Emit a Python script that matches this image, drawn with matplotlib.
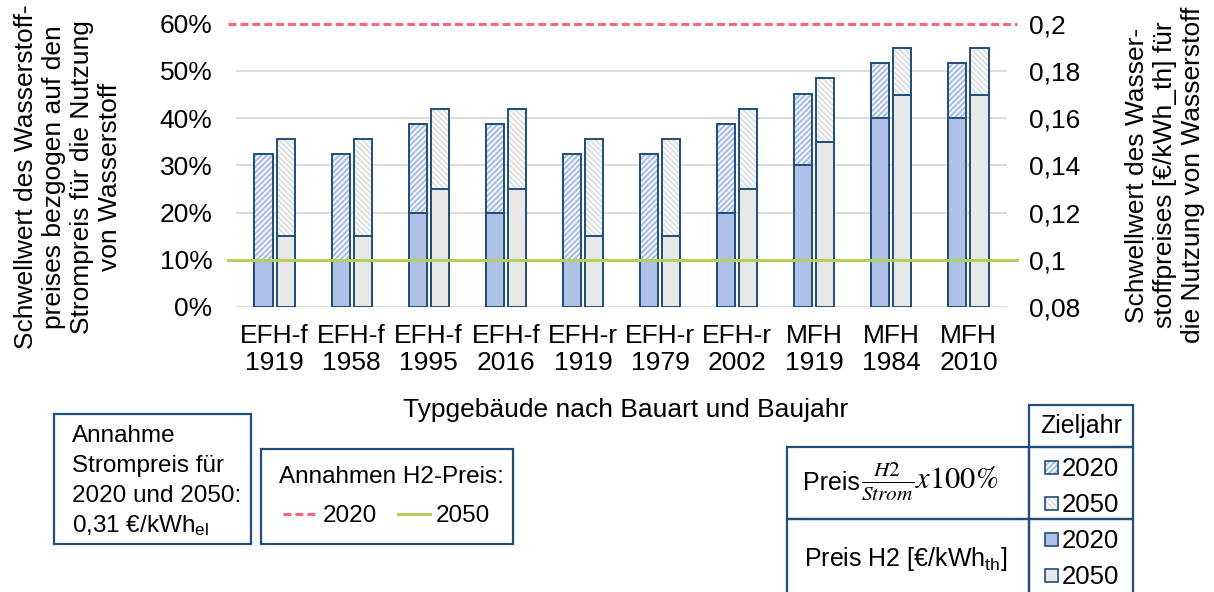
import matplotlib
matplotlib.use("Agg")
import matplotlib.pyplot as plt
import numpy as np
from matplotlib.patches import Rectangle

# Schriften
plt.rcParams['font.family'] = ['Liberation Sans', 'DejaVu Sans']
plt.rcParams['mathtext.fontset'] = 'custom'
plt.rcParams['mathtext.rm'] = 'Liberation Sans'
plt.rcParams['mathtext.it'] = 'Liberation Sans:italic'
plt.rcParams['hatch.linewidth'] = 1.6

# Daten
kategorien = ["EFH-f\n1919", "EFH-f\n1958", "EFH-f\n1995", "EFH-f\n2016", "EFH-r\n1919",
              "EFH-r\n1979", "EFH-r\n2002", "MFH\n1919", "MFH\n1984", "MFH\n2010"]
# Schwellwert H2-Preis [€/kWh_th] (rechte Achse)
preis_2020 = [0.10, 0.10, 0.12, 0.12, 0.10, 0.10, 0.12, 0.14, 0.16, 0.16]
preis_2050 = [0.11, 0.11, 0.13, 0.13, 0.11, 0.11, 0.13, 0.15, 0.17, 0.17]
# Schwellwert bezogen auf den Strompreis [%] (linke Achse)
anteil_2020 = [32.3, 32.3, 38.7, 38.7, 32.3, 32.3, 38.7, 45.2, 51.6, 51.6]
anteil_2050 = [35.5, 35.5, 41.9, 41.9, 35.5, 35.5, 41.9, 48.4, 54.8, 54.8]
# Annahmen H2-Preis [€/kWh_th]
h2_annahme_2020 = 0.20
h2_annahme_2050 = 0.10

# Farben
dunkelblau = '#1F4E79'
hellblau = '#AFC1E6'
hellgrau = '#E8E8E8'
schraffblau = '#A9BDE6'
schraffgrau = '#E2E2E2'
rot = '#F4677C'
gruen = '#B5CF5A'
fs = 19

fig = plt.figure(figsize=(12.14, 5.92), dpi=100)
W, H = 1214, 592
ax = fig.add_axes([236 / W, 1 - 307 / H, (1007 - 236) / W, (307 - 23.7) / H])
ax2 = ax.twinx()

x = np.arange(len(kategorien))
b = 0.235
dx = 0.143

# Gitterlinien
for v in range(0, 60, 10):
    ax.axhline(v, color='#D9D9D9', lw=1.3, zorder=0)

# schraffierte Balken (Anteil am Strompreis)
ax.bar(x - dx, anteil_2020, b, color='white', edgecolor=schraffblau, hatch='//////', lw=0, zorder=2)
ax.bar(x + dx, anteil_2050, b, color='white', edgecolor=schraffgrau, hatch='\\\\\\\\\\\\', lw=0, zorder=2)
ax.bar(x - dx, anteil_2020, b, fill=False, edgecolor=dunkelblau, lw=1.4, zorder=3)
ax.bar(x + dx, anteil_2050, b, fill=False, edgecolor=dunkelblau, lw=1.4, zorder=3)

# gefüllte Balken (H2-Preis) auf der rechten Achse
unten = 0.08
ax2.bar(x - dx, np.array(preis_2020) - unten, b, bottom=unten, color=hellblau, edgecolor=dunkelblau, lw=1.4, zorder=2)
ax2.bar(x + dx, np.array(preis_2050) - unten, b, bottom=unten, color=hellgrau, edgecolor=dunkelblau, lw=1.4, zorder=2)

# Annahmen H2-Preis als Linien
ax2.axhline(h2_annahme_2020, xmin=-0.011, xmax=1.013, color=rot, lw=2.2, dashes=(2.6, 1.3), clip_on=False, zorder=4)
ax2.axhline(h2_annahme_2050, xmin=-0.011, xmax=1.013, color=gruen, lw=2.2, clip_on=False, zorder=4)

ax.set_xlim(-0.5, len(kategorien) - 0.5)
ax.set_ylim(0, 60)
ax2.set_ylim(0.08, 0.2)
ax.set_yticks(range(0, 61, 10))
ax.set_yticklabels([f"{v}%" for v in range(0, 61, 10)])
rt = np.arange(0.08, 0.2001, 0.02)
ax2.set_yticks(rt)
ax2.set_yticklabels([f"{v:.2f}".rstrip('0').replace('.', ',') for v in rt])
ax.set_xticks(x)
ax.set_xticklabels(kategorien)

for a in (ax, ax2):
    for s in a.spines.values():
        s.set_visible(False)
ax.tick_params(axis='both', length=0, labelsize=fs)
ax.tick_params(axis='y', pad=17)
ax.tick_params(axis='x', pad=12)
ax2.tick_params(axis='y', length=0, labelsize=fs, pad=16)

# Achsentitel
fig.text(68 / W, 1 - 177 / H, "Schwellwert des Wasserstoff-\npreises bezgogen auf den\nStrompreis für die Nutzung\nvon Wasserstoff",
         rotation=90, ha='center', va='center', multialignment='center', fontsize=fs)
fig.text(1165 / W, 1 - 175 / H, "Schwellwert des Wasser-\nstoffpreises [€/kWh_th] für\ndie Nutzung von Wasserstoff",
         rotation=90, ha='center', va='center', multialignment='center', fontsize=fs)
fig.text(626 / W, 1 - 410 / H, "Typgebäude nach Bauart und Baujahr", ha='center', va='center', fontsize=fs)

# Legenden-Kästen unten (Pixelkoordinaten)
lg = fig.add_axes([0, 0, 1, 1], zorder=5)
lg.set_xlim(0, W)
lg.set_ylim(H, 0)
lg.axis('off')
lg.patch.set_alpha(0)

def kasten(x0, y0, x1, y1):
    lg.add_patch(Rectangle((x0, y0), x1 - x0, y1 - y0, fill=False, edgecolor=dunkelblau, lw=1.6, clip_on=False))

fs2 = 17.5
kasten(54, 414, 251, 544)
for i, t in enumerate(["Annahme", "Strompreis für", "2020 und 2050:", r"0,31 €/kWh$_{\mathrm{el}}$"]):
    lg.text(72, 442 + 30 * i, t, fontsize=fs2, va='baseline', ha='left')

kasten(261, 449, 513, 544)
lg.text(279, 483, "Annahmen H2-Preis:", fontsize=fs2, va='baseline')
lg.plot([283, 316], [514, 514], color=rot, lw=2.2, dashes=(2.6, 1.3))
lg.text(323, 522, "2020", fontsize=fs2, va='baseline')
lg.plot([398, 430], [514, 514], color=gruen, lw=2.2)
lg.text(436, 522, "2050", fontsize=fs2, va='baseline')

# Tabelle Zieljahr
kasten(1029, 405, 1133, 447)
lg.text(1081, 426, "Zieljahr", fontsize=18, ha='center', va='center')
kasten(787, 447, 1029, 519)
kasten(1029, 447, 1133, 519)
kasten(787, 519, 1029, 600)
kasten(1029, 519, 1133, 600)
lg.text(803, 490, "Preis", fontsize=18, ha='left', va='baseline')
lg.text(861, 482, r"$\frac{H2}{Strom}x100\%$", fontsize=22, ha='left', va='center', math_fontfamily='stix')
lg.text(906, 566, r"Preis H2 [€/kWh$_{\mathrm{th}}$]", fontsize=18, ha='center', va='baseline')

jahre = ["2020", "2050", "2020", "2050"]
zeilen_y = [467, 503, 539, 575]
stile = [('white', schraffblau, '//////'), ('white', schraffgrau, '\\\\\\\\\\\\'), (hellblau, None, None), (hellgrau, None, None)]
for j, yy, (fc, hc, ht) in zip(jahre, zeilen_y, stile):
    if ht:
        lg.add_patch(Rectangle((1045, yy - 6.5), 13, 13, facecolor=fc, edgecolor=hc, hatch=ht, lw=0))
    else:
        lg.add_patch(Rectangle((1045, yy - 6.5), 13, 13, facecolor=fc, lw=0))
    lg.add_patch(Rectangle((1045, yy - 6.5), 13, 13, fill=False, edgecolor=dunkelblau, lw=1.2))
    lg.text(1062, yy + 9, j, fontsize=18.5, va='baseline')

fig.savefig("out.png", dpi=100)
